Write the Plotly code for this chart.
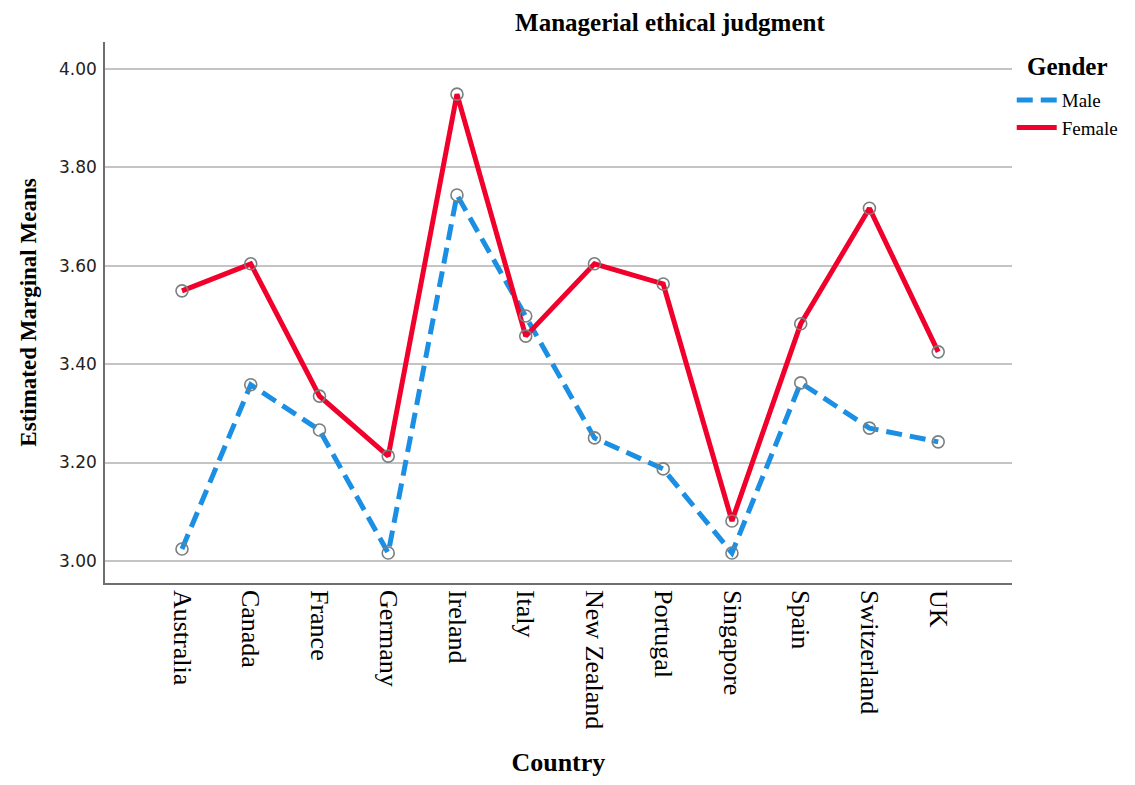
import plotly.graph_objects as go

countries = ["Australia", "Canada", "France", "Germany", "Ireland", "Italy",
             "New Zealand", "Portugal", "Singapore", "Spain", "Switzerland", "UK"]
male = [3.024, 3.358, 3.266, 3.016, 3.744, 3.498, 3.250, 3.187, 3.016, 3.362, 3.270, 3.242]
female = [3.549, 3.604, 3.335, 3.213, 3.949, 3.457, 3.604, 3.563, 3.081, 3.482, 3.717, 3.425]
y_ticks = [3.0, 3.2, 3.4, 3.6, 3.8, 4.0]

MALE_COLOR = "#1a8fe3"
FEMALE_COLOR = "#f0002a"
SERIF = "Liberation Serif, Times New Roman, serif"

fig = go.Figure()

fig.add_trace(go.Scatter(
    x=countries, y=male, name="Male", mode="lines",
    line=dict(color=MALE_COLOR, width=5, dash="16px,8px"),
))
fig.add_trace(go.Scatter(
    x=countries, y=female, name="Female", mode="lines",
    line=dict(color=FEMALE_COLOR, width=5),
))

# open circle markers on every point (not shown in legend)
for vals in (male, female):
    fig.add_trace(go.Scatter(
        x=countries, y=vals, mode="markers", showlegend=False, hoverinfo="skip",
        marker=dict(symbol="circle-open", size=12, color="#7a7f80",
                    line=dict(width=1.6, color="#7a7f80")),
    ))

# the page adds an 8px body margin, so the figure is a bit smaller than the window
fig.update_layout(
    width=1119, height=769,
    margin=dict(l=97, r=112, t=34, b=194),
    paper_bgcolor="white", plot_bgcolor="white",
    title=dict(text="<b>Managerial ethical judgment</b>", xref="paper", x=0.623,
               xanchor="center", y=0.982, yanchor="middle",
               font=dict(family=SERIF, size=25, color="black")),
    legend=dict(
        font=dict(family=SERIF, size=19, color="black"),
        xref="container", yref="container",
        x=0.897, xanchor="left", y=0.905, yanchor="top",
        tracegroupgap=0, itemwidth=40, bgcolor="rgba(0,0,0,0)",
    ),
    showlegend=True,
)

fig.add_annotation(
    text="<b>Gender</b>", xref="paper", yref="paper", x=1.0615, y=0.9556,
    xanchor="center", yanchor="middle", showarrow=False,
    font=dict(family=SERIF, size=25, color="black"),
)

fig.update_xaxes(
    type="category", range=[-1.12, 12.07], automargin=False,
    tickangle=90, tickfont=dict(family=SERIF, size=26, color="black"),
    showgrid=False, showline=True, linecolor="#6e6e6e", linewidth=1.5,
    ticks="", zeroline=False,
    title=dict(text="<b>Country</b>", font=dict(family=SERIF, size=26, color="black"),
               standoff=37),
)
fig.update_yaxes(
    range=[2.955, 4.055], tickvals=y_ticks, tickformat=".2f", automargin=False,
    tickfont=dict(family="DejaVu Sans, sans-serif", size=17, color="#222"),
    showgrid=True, gridcolor="#c4c4c4", gridwidth=1.5,
    showline=True, linecolor="#6e6e6e", linewidth=1.5,
    ticks="", zeroline=False, ticklabelstandoff=3,
    title=dict(text="<b>Estimated Marginal Means</b>",
               font=dict(family=SERIF, size=23, color="black"), standoff=16),
)

fig.write_html("out.html")
